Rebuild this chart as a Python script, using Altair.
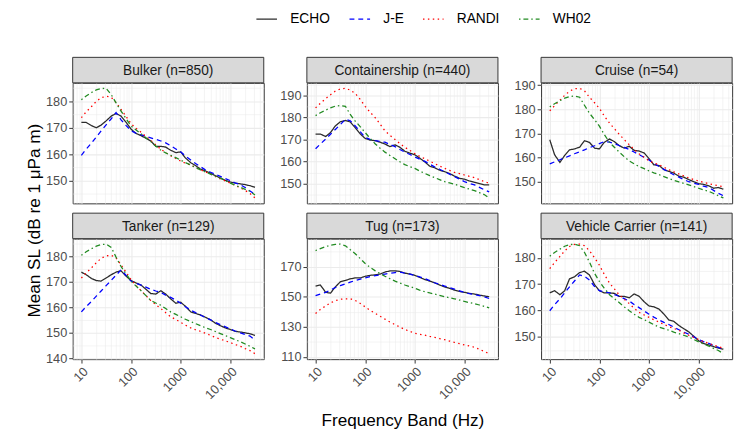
import altair as alt
import pandas as pd

FONT = "Liberation Sans"

FREQ = [10, 12.5, 16, 20, 25, 31.5, 40, 50, 63, 80, 100, 125, 160, 200, 250, 315,
        400, 500, 630, 800, 1000, 1250, 1600, 2000, 2500, 3150, 4000, 5000, 6300,
        8000, 10000, 12500, 16000, 20000, 25000, 31500]
MODELS = ["ECHO", "J-E", "RANDI", "WH02"]
COLORS = ["#2B2B2B", "#0000FF", "#FF0000", "#228B22"]
DASHES = [[1, 0], [5, 4], [1.5, 3.5], [1.5, 3, 5, 3]]

# ---- Bulker
bulker_echo = [172.0, 172.0, 170.8, 170.0, 171.0, 172.6, 174.4, 175.4, 174.4, 172.0, 169.5, 167.9, 167.0, 166.0, 165.0, 163.0, 163.0, 162.7, 161.5, 160.6, 160.9, 158.6, 156.8, 155.7, 154.4, 153.7, 152.8, 151.9, 151.0, 150.1, 149.5, 149.1, 148.8, 148.5, 148.1, 147.5]
bulker_je = [159.6, 161.9, 164.2, 166.5, 168.8, 171.1, 173.4, 175.7, 173.0, 170.8, 168.9, 168.0, 167.3, 166.8, 166.2, 165.6, 165.0, 164.3, 163.2, 162.0, 160.9, 159.3, 157.8, 156.5, 155.3, 154.1, 153.2, 152.4, 151.6, 150.8, 150.0, 149.2, 148.5, 147.4, 146.1, 144.8]
bulker_randi = [173.8, 176.0, 178.0, 180.0, 181.3, 181.9, 181.5, 179.5, 176.9, 174.2, 171.6, 169.8, 168.3, 166.7, 165.2, 163.5, 161.9, 160.6, 159.4, 158.4, 157.4, 156.6, 155.9, 155.0, 154.1, 153.3, 152.5, 151.6, 150.7, 149.9, 149.1, 148.2, 147.3, 146.3, 145.2, 143.5]
bulker_wh02 = [180.6, 182.0, 183.3, 184.3, 184.8, 184.9, 182.5, 179.4, 176.3, 173.4, 170.7, 169.2, 167.7, 166.2, 164.8, 163.1, 161.5, 160.5, 159.6, 158.7, 157.8, 156.8, 155.9, 155.0, 154.1, 153.3, 152.5, 151.7, 151.0, 150.0, 149.1, 148.3, 147.5, 146.7, 146.0, 144.6]

# ---- Containership
cont_echo = [172.5, 172.5, 171.4, 173.2, 176.2, 178.1, 178.7, 178.0, 175.4, 172.5, 170.5, 169.8, 169.5, 168.8, 168.0, 166.8, 167.6, 166.5, 164.7, 163.8, 163.1, 161.6, 159.8, 157.9, 157.2, 156.1, 155.4, 154.6, 153.4, 152.4, 152.0, 151.2, 150.6, 150.0, 149.4, 149.4]
cont_je = [165.8, 168.0, 170.2, 172.4, 174.6, 176.8, 179.2, 178.5, 176.2, 173.5, 171.0, 170.1, 169.5, 169.1, 168.8, 167.8, 166.8, 165.5, 164.3, 163.2, 162.1, 161.1, 160.1, 158.8, 157.6, 156.5, 155.4, 154.3, 153.2, 152.0, 150.9, 150.1, 149.4, 148.3, 147.2, 146.2]
cont_randi = [184.4, 186.5, 188.6, 190.4, 192.0, 193.0, 193.3, 192.5, 191.0, 188.2, 185.1, 182.5, 179.9, 177.0, 174.0, 172.0, 170.0, 168.2, 166.5, 165.0, 163.6, 162.4, 161.3, 160.2, 159.1, 158.0, 156.9, 156.0, 155.1, 154.5, 153.9, 153.3, 152.7, 151.8, 150.9, 150.2]
cont_wh02 = [180.9, 182.2, 183.4, 184.4, 185.2, 185.5, 185.1, 181.4, 178.4, 175.8, 173.2, 170.6, 168.0, 166.1, 164.3, 162.8, 161.3, 159.9, 158.6, 157.7, 156.9, 155.7, 154.6, 153.6, 152.7, 151.8, 150.9, 150.3, 149.7, 148.9, 148.2, 147.5, 146.8, 145.9, 145.0, 143.5]

# ---- Cruise
cruise_echo = [167.4, 161.2, 158.0, 160.9, 163.2, 163.6, 164.3, 167.0, 166.3, 163.9, 163.6, 166.3, 167.7, 166.6, 165.0, 163.9, 164.7, 163.0, 162.7, 161.9, 159.6, 157.0, 156.7, 155.0, 154.3, 153.6, 152.3, 151.9, 150.9, 150.0, 149.2, 148.9, 148.3, 147.3, 147.6, 146.9]
cruise_je = [157.4, 158.2, 159.1, 159.9, 160.7, 161.6, 162.4, 163.2, 164.1, 164.9, 165.8, 166.6, 166.4, 165.8, 165.0, 164.2, 163.4, 162.3, 161.2, 160.1, 159.0, 157.6, 156.3, 155.1, 154.0, 152.9, 151.9, 150.9, 150.0, 149.4, 148.9, 148.2, 147.6, 146.4, 145.2, 144.2]
cruise_randi = [179.4, 181.5, 183.8, 185.8, 187.5, 188.5, 188.7, 187.7, 185.0, 182.7, 180.4, 177.3, 174.3, 172.0, 169.7, 167.5, 165.3, 163.4, 161.6, 160.1, 158.6, 157.8, 157.0, 156.0, 155.0, 154.1, 153.2, 152.4, 151.6, 150.9, 150.3, 149.7, 149.2, 148.7, 148.3, 147.9]
cruise_wh02 = [181.0, 182.3, 183.6, 184.6, 185.3, 185.5, 185.0, 181.7, 178.4, 175.7, 173.0, 169.6, 166.3, 164.3, 162.3, 160.4, 158.6, 157.4, 156.3, 155.4, 154.5, 153.7, 152.9, 152.1, 151.3, 150.6, 149.9, 149.3, 148.7, 148.0, 147.3, 146.6, 146.0, 145.1, 144.2, 143.3]

# ---- Tanker
tanker_echo = [173.8, 172.8, 171.3, 170.5, 170.3, 171.5, 172.8, 173.8, 174.3, 172.2, 170.5, 169.6, 168.7, 167.1, 165.4, 165.2, 166.5, 165.2, 163.3, 161.6, 162.0, 160.4, 158.2, 157.6, 157.0, 156.1, 155.1, 153.8, 152.8, 151.9, 151.3, 150.6, 150.3, 150.0, 149.6, 149.0]
tanker_je = [158.2, 160.3, 162.3, 164.4, 166.4, 168.5, 170.6, 172.6, 174.7, 172.5, 170.3, 169.5, 168.7, 167.9, 167.1, 166.4, 165.8, 164.8, 163.9, 162.8, 161.6, 160.2, 158.9, 157.9, 157.0, 156.0, 155.1, 154.1, 153.2, 152.3, 151.5, 150.7, 150.0, 149.3, 148.7, 147.2]
tanker_randi = [171.5, 173.5, 175.5, 177.5, 179.2, 180.2, 180.4, 179.4, 176.6, 173.7, 170.9, 168.7, 166.5, 164.6, 162.7, 161.1, 159.5, 157.9, 156.3, 155.2, 154.1, 153.0, 151.9, 151.2, 150.6, 149.8, 149.0, 148.2, 147.5, 146.8, 146.2, 145.4, 144.7, 143.8, 143.0, 141.8]
tanker_wh02 = [180.4, 181.8, 183.0, 184.0, 184.6, 184.8, 183.5, 179.7, 176.0, 173.1, 170.3, 168.4, 166.5, 164.6, 162.7, 161.7, 160.8, 159.5, 158.2, 157.2, 156.3, 155.3, 154.4, 153.6, 152.8, 152.0, 151.3, 150.5, 149.7, 148.9, 148.1, 147.3, 146.5, 145.6, 144.7, 143.7]

# ---- Tug
tug_echo = [157.1, 157.8, 152.9, 152.4, 156.5, 159.9, 160.8, 161.9, 162.5, 162.5, 163.6, 164.2, 164.6, 165.1, 166.4, 167.2, 167.2, 166.8, 165.7, 165.1, 164.2, 162.9, 161.4, 160.4, 159.3, 157.8, 156.5, 155.6, 154.4, 153.5, 152.9, 152.2, 151.8, 151.1, 150.5, 150.0]
tug_je = [150.7, 151.8, 152.9, 154.5, 156.1, 157.4, 158.6, 159.7, 160.8, 161.7, 162.5, 163.3, 164.0, 164.6, 165.1, 165.6, 166.1, 166.4, 165.7, 165.0, 164.2, 163.2, 162.1, 160.7, 159.3, 158.2, 157.1, 156.0, 155.0, 153.9, 152.9, 152.1, 151.4, 150.7, 150.0, 148.8]
tug_randi = [138.9, 141.5, 143.9, 145.9, 147.4, 148.3, 148.6, 148.6, 147.5, 145.5, 143.2, 141.0, 138.9, 137.0, 135.1, 133.2, 131.4, 129.8, 128.2, 126.9, 125.6, 125.0, 124.4, 123.6, 122.9, 122.2, 121.4, 120.5, 119.6, 118.8, 117.9, 117.2, 116.4, 115.0, 113.6, 112.1]
tug_wh02 = [180.7, 182.0, 183.3, 184.3, 184.8, 185.0, 183.9, 181.3, 178.6, 175.3, 172.1, 169.6, 167.2, 165.4, 163.6, 162.0, 160.4, 159.1, 157.8, 156.7, 155.6, 154.4, 153.3, 152.5, 151.8, 150.9, 150.0, 149.3, 148.6, 147.8, 146.9, 146.1, 145.4, 144.5, 143.6, 142.6]

# ---- Vehicle Carrier
vc_echo = [166.7, 167.5, 166.0, 167.5, 172.0, 172.8, 174.4, 174.9, 173.5, 169.8, 167.5, 166.7, 166.7, 166.5, 165.4, 165.4, 164.8, 166.3, 165.4, 163.3, 161.7, 161.4, 160.5, 158.6, 156.4, 155.9, 154.3, 153.1, 151.9, 150.2, 148.5, 147.5, 146.9, 146.3, 145.7, 145.3]
vc_je = [159.9, 162.2, 164.4, 166.7, 169.0, 171.2, 173.5, 173.0, 171.6, 169.1, 167.5, 167.1, 166.7, 166.0, 165.4, 164.5, 163.6, 162.3, 161.1, 159.8, 158.6, 157.5, 156.4, 155.5, 154.7, 153.7, 152.7, 151.8, 151.0, 150.0, 149.0, 148.2, 147.5, 146.7, 146.0, 145.1]
vc_randi = [175.9, 178.2, 180.5, 182.6, 184.3, 185.1, 185.2, 184.6, 182.7, 180.0, 177.2, 173.8, 170.4, 168.2, 166.0, 164.3, 162.6, 160.9, 159.3, 158.3, 157.4, 156.5, 155.6, 154.7, 153.9, 153.2, 152.5, 151.5, 150.6, 149.8, 149.0, 148.2, 147.5, 146.9, 146.3, 145.7]
vc_wh02 = [180.6, 182.0, 183.3, 184.4, 185.0, 185.2, 184.6, 182.1, 178.4, 174.1, 171.0, 168.5, 166.0, 164.5, 163.0, 161.4, 159.9, 158.6, 157.4, 156.5, 155.6, 154.6, 153.7, 153.1, 152.5, 151.8, 151.2, 150.6, 150.0, 149.0, 148.1, 147.3, 146.5, 145.6, 144.8, 143.6]

PANELS = [
    ("Bulker (n=850)", [bulker_echo, bulker_je, bulker_randi, bulker_wh02], [150, 160, 170, 180]),
    ("Containership (n=440)", [cont_echo, cont_je, cont_randi, cont_wh02], [150, 160, 170, 180, 190]),
    ("Cruise (n=54)", [cruise_echo, cruise_je, cruise_randi, cruise_wh02], [150, 160, 170, 180, 190]),
    ("Tanker (n=129)", [tanker_echo, tanker_je, tanker_randi, tanker_wh02], [140, 150, 160, 170, 180]),
    ("Tug (n=173)", [tug_echo, tug_je, tug_randi, tug_wh02], [110, 130, 150, 170]),
    ("Vehicle Carrier (n=141)", [vc_echo, vc_je, vc_randi, vc_wh02], [150, 160, 170, 180]),
]

X_MAJOR = [10, 100, 1000, 10000]
X_VALUES = [7, 8, 9, 10, 20, 30, 40, 50, 60, 70, 80, 90, 100, 200, 300, 400, 500,
            600, 700, 800, 900, 1000, 2000, 3000, 4000, 5000, 6000, 7000, 8000,
            9000, 10000, 20000, 30000, 40000]

W, H, S = 195, 123, 26
GRID = "#EBEBEB"
DARK = "#333333"
LAB = "#4D4D4D"

legend = alt.Legend(orient="none", legendX=191, legendY=-72, direction="horizontal",
                    title=None, symbolType="M-1.75,0H1.75", symbolSize=144, symbolStrokeWidth=1.4,
                    labelFontSize=14, labelColor="#000000", labelFont=FONT,
                    columnPadding=16, labelOffset=17, padding=0)


def major_test(vals):
    return "indexof([" + ",".join(str(v) for v in vals) + "], datum.value) >= 0"


def make_panel(i, title, series, ymajor):
    rows = []
    for m, vals in zip(MODELS, series):
        for f, v in zip(FREQ, vals):
            rows.append({"freq": f, "sl": v, "model": m})
    df = pd.DataFrame(rows)
    lo, hi = df["sl"].min(), df["sl"].max()
    pad = 0.05 * (hi - lo)
    ydom = [lo - pad, hi + pad]
    step = ymajor[1] - ymajor[0]
    yvals = []
    for v in ymajor:
        for c in (v - step / 2, v):
            if ydom[0] <= c <= ydom[1] and c not in yvals:
                yvals.append(c)
    top = ymajor[-1] + step / 2
    if ydom[0] <= top <= ydom[1]:
        yvals.append(top)
    ytest = major_test(ymajor)
    xtest = major_test(X_MAJOR)
    bottom = i >= 3

    xaxis = alt.Axis(
        values=X_VALUES, grid=True, gridColor=GRID,
        gridWidth={"condition": {"test": xtest, "value": 1.1}, "value": 0.55},
        domain=False, labels=bottom, ticks=bottom,
        tickColor=DARK, tickSize=4,
        tickOpacity={"condition": {"test": xtest, "value": 1}, "value": 0},
        labelExpr="datum.value == 10 ? '10' : datum.value == 100 ? '100' : datum.value == 1000 ? '1000' : datum.value == 10000 ? '10,000' : ''",
        labelAngle=-45, labelFontSize=13, labelColor=LAB, labelFont=FONT,
        labelOverlap=False, labelFlush=False, labelPadding=2,
        title="Frequency Band (Hz)" if i == 4 else None,
        titleFontSize=17.5, titleFontWeight="normal", titleColor="#000000",
        titleFont=FONT, titlePadding=10,
    )
    yaxis = alt.Axis(
        values=yvals, grid=True, gridColor=GRID,
        gridWidth={"condition": {"test": ytest, "value": 1.1}, "value": 0.55},
        domain=False, tickColor=DARK, tickSize=4,
        tickOpacity={"condition": {"test": ytest, "value": 1}, "value": 0},
        labelExpr="(" + ytest + ") ? datum.label : ''",
        labelFontSize=13, labelColor=LAB, labelFont=FONT, labelPadding=2,
        labelOverlap=False, title=None,
    )
    lines = alt.Chart(df).mark_line(strokeWidth=1.3, strokeCap="butt").encode(
        x=alt.X("freq:Q", scale=alt.Scale(type="log", domain=[6.68, 47300], nice=False), axis=xaxis),
        y=alt.Y("sl:Q", scale=alt.Scale(domain=ydom, nice=False, zero=False), axis=yaxis),
        color=alt.Color("model:N", scale=alt.Scale(domain=MODELS, range=COLORS), legend=legend),
        strokeDash=alt.StrokeDash("model:N", scale=alt.Scale(domain=MODELS, range=DASHES), legend=legend),
        order="freq:Q",
    )
    sdf = pd.DataFrame({"label": [title]})
    box = alt.Chart(sdf).mark_rect(fill="#D9D9D9", stroke=DARK, strokeWidth=1).encode(
        x=alt.value(0), x2=alt.value(W), y=alt.value(-S), y2=alt.value(0))
    txt = alt.Chart(sdf).mark_text(fontSize=14, color="#1A1A1A", font=FONT).encode(
        x=alt.value(W / 2), y=alt.value(-S / 2 + 1), text="label:N")
    return alt.layer(lines, box, txt).properties(width=W, height=H)


cells = [make_panel(i, t, s, ym) for i, (t, s, ym) in enumerate(PANELS)]

chart = alt.concat(*cells, columns=3, bounds="flush",
                   spacing={"row": 36, "column": 44}).resolve_scale(
    x="independent", y="independent", color="shared", strokeDash="shared"
).properties(
    title=alt.TitleParams(text="Mean SL (dB re 1 μPa m)", orient="left", anchor="middle",
                          fontSize=17.5, fontWeight="normal", color="#000000", font=FONT,
                          offset=2),
    padding={"left": 18, "top": 0, "right": 0, "bottom": 0},
).configure(font=FONT).configure_view(stroke=DARK, strokeWidth=1)

chart.save("out.html", embed_options={"renderer": "svg", "actions": False})
